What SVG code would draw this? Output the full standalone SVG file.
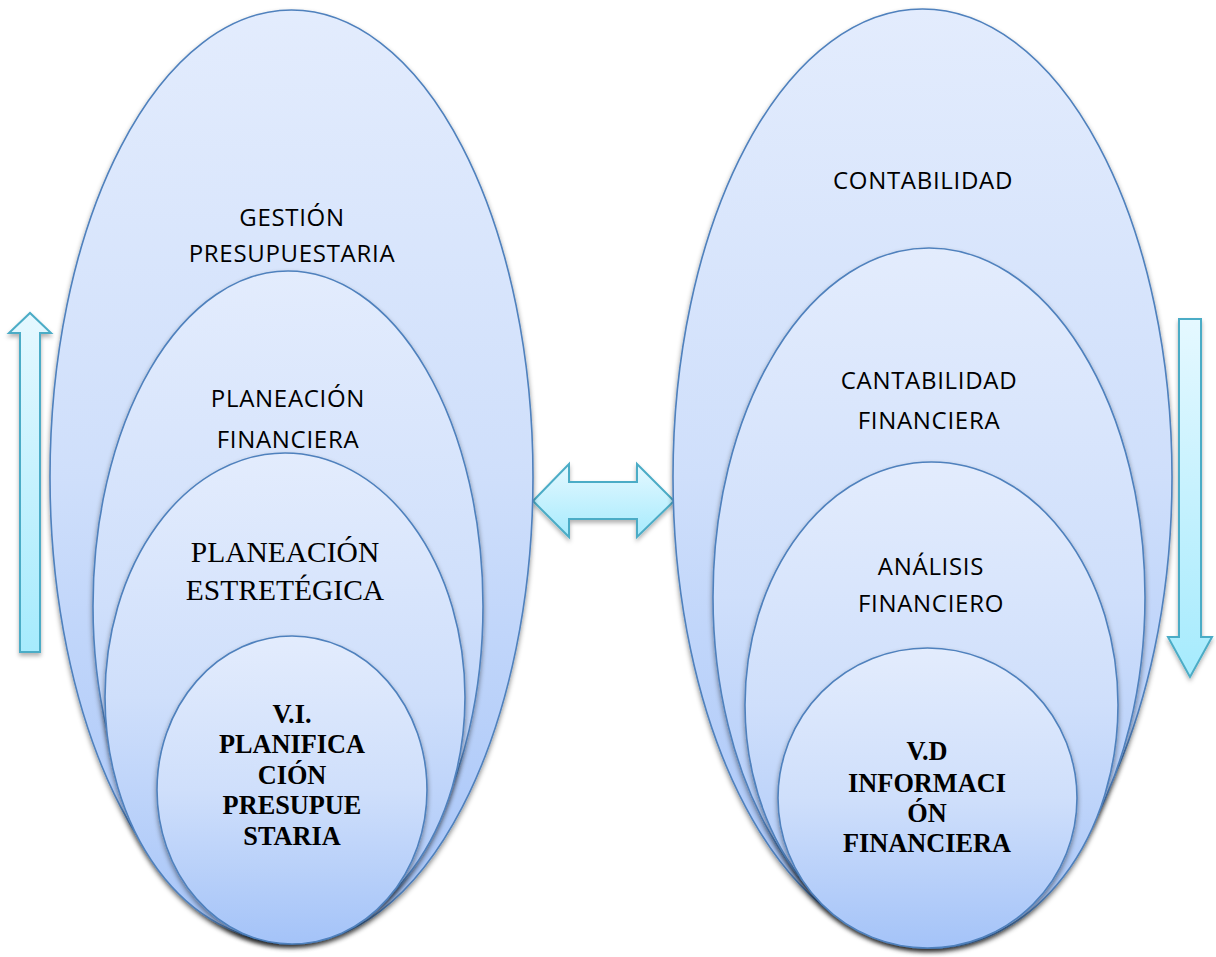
<svg xmlns="http://www.w3.org/2000/svg" width="1216" height="957" viewBox="0 0 1216 957">
<defs>
<linearGradient id="eg" x1="0" y1="0" x2="0" y2="1">
<stop offset="0" stop-color="#e3ecfd"/>
<stop offset="0.5" stop-color="#cfdffb"/>
<stop offset="1" stop-color="#a4c3f8"/>
</linearGradient>
<linearGradient id="ag" x1="0" y1="0" x2="0" y2="1">
<stop offset="0" stop-color="#e5f8ff"/>
<stop offset="1" stop-color="#a6ebfd"/>
</linearGradient>
<filter id="sh" x="-10%" y="-10%" width="120%" height="120%">
<feDropShadow dx="0" dy="3" stdDeviation="2.5" flood-color="#000" flood-opacity="0.45"/>
</filter>
<filter id="ash" x="-20%" y="-20%" width="140%" height="140%">
<feDropShadow dx="0" dy="3" stdDeviation="2" flood-color="#000" flood-opacity="0.3"/>
</filter>
</defs>
<style>
.el{fill:url(#eg);stroke:#4f81bd;stroke-width:1.6;filter:url(#sh)}
.ar{fill:url(#ag);stroke:#4bacc6;stroke-width:2;stroke-linejoin:miter;filter:url(#ash)}
.sans{font-family:"Open Sans","Liberation Sans",sans-serif;font-size:24px;letter-spacing:0.7px;fill:#000;text-anchor:middle}
.serif{font-family:"Liberation Serif","Times New Roman",serif;font-size:29.5px;fill:#000;text-anchor:middle}
.bold{font-family:"Liberation Serif","Times New Roman",serif;font-size:26.3px;font-weight:bold;fill:#000;text-anchor:middle}
</style>
<rect width="1216" height="957" fill="#fff"/>

<g id="connectors">
<path class="ar" d="M20,652 L20,333 L9,333 L30,313 L51,333 L40,333 L40,652 Z"/>
<path class="ar" d="M1179,319 L1201,319 L1201,637 L1212,637 L1190,677 L1168,637 L1179,637 Z"/>
<path class="ar" d="M533,501 L569,464 L569,482 L637,482 L637,464 L674,501 L637,537 L637,519 L569,519 L569,537 Z"/>
</g>

<g id="gestion">
<ellipse class="el" cx="291.5" cy="477" rx="241.5" ry="467"/>
<text class="sans" x="292" y="226">GESTIÓN</text>
<text class="sans" x="292" y="262">PRESUPUESTARIA</text>
</g>
<g id="planeacion-financiera">
<ellipse class="el" cx="288" cy="606" rx="195" ry="335"/>
<text class="sans" x="288" y="407">PLANEACIÓN</text>
<text class="sans" x="288" y="448">FINANCIERA</text>
</g>
<g id="planeacion-estrategica">
<ellipse class="el" cx="285" cy="697" rx="180" ry="244"/>
<text class="serif" x="285" y="562">PLANEACIÓN</text>
<text class="serif" x="285" y="600">ESTRETÉGICA</text>
</g>
<g id="vi">
<ellipse class="el" cx="292" cy="790" rx="135" ry="154"/>
<text class="bold" x="292" y="723">V.I.</text>
<text class="bold" x="292" y="753">PLANIFICA</text>
<text class="bold" x="292" y="784">CIÓN</text>
<text class="bold" x="292" y="814">PRESUPUE</text>
<text class="bold" x="292" y="845">STARIA</text>
</g>

<g id="contabilidad">
<ellipse class="el" cx="922.5" cy="477" rx="249.5" ry="468"/>
<text class="sans" x="923" y="189">CONTABILIDAD</text>
</g>
<g id="contabilidad-financiera">
<ellipse class="el" cx="929" cy="597" rx="216" ry="349"/>
<text class="sans" x="929" y="389">CANTABILIDAD</text>
<text class="sans" x="929" y="429">FINANCIERA</text>
</g>
<g id="analisis">
<ellipse class="el" cx="931.5" cy="705" rx="186.5" ry="243"/>
<text class="sans" x="931" y="575">ANÁLISIS</text>
<text class="sans" x="931" y="612">FINANCIERO</text>
</g>
<g id="vd">
<ellipse class="el" cx="927.5" cy="798" rx="149.5" ry="150"/>
<text class="bold" x="927" y="760">V.D</text>
<text class="bold" x="927" y="792">INFORMACI</text>
<text class="bold" x="927" y="822">ÓN</text>
<text class="bold" x="927" y="852">FINANCIERA</text>
</g>
</svg>
